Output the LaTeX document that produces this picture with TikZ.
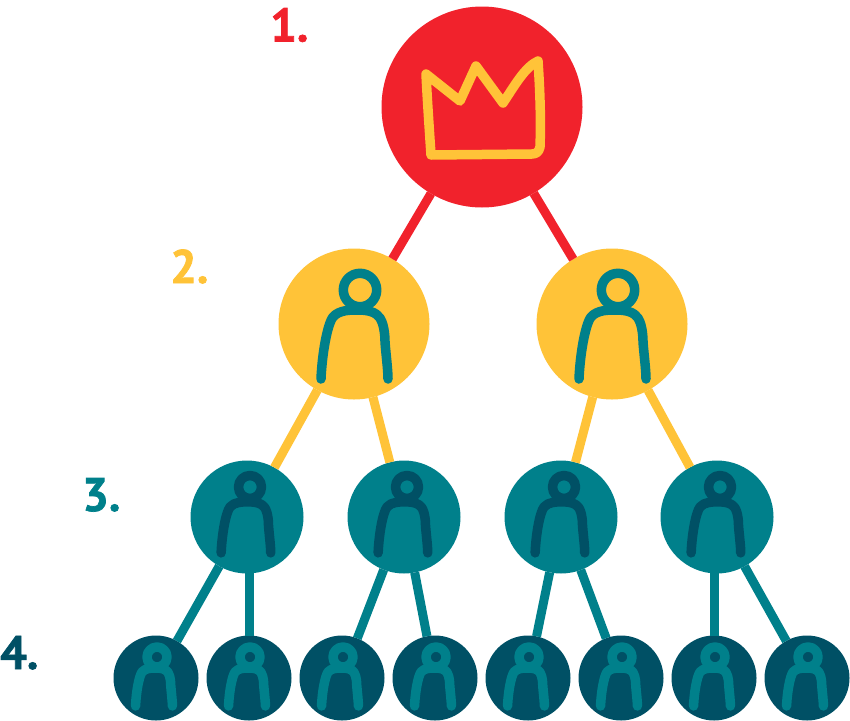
\documentclass[tikz,border=0pt]{standalone}
\usepackage{fontspec}
\setmainfont{PT Sans}[UprightFont=* Bold,FakeBold=1.5]
\definecolor{cred}{HTML}{F1222C}
\definecolor{cyel}{HTML}{FFC338}
\definecolor{cteal}{HTML}{00808B}
\definecolor{cdark}{HTML}{005065}
\tikzset{
  disc/.style={circle,inner sep=0pt,outer sep=0pt,draw=none},
  redn/.style={disc,fill=cred,minimum size=201pt},
  yeln/.style={disc,fill=cyel,minimum size=151pt},
  tealn/.style={disc,fill=cteal,minimum size=113pt},
  darkn/.style={disc,fill=cdark,minimum size=85pt},
  link/.style={line width=9pt},
  icon/.style={line width=9.5pt,line cap=round,line join=round},
  lab/.style={anchor=base west,inner sep=0pt,font=\fontsize{47pt}{47pt}\selectfont}
}
% node, dx, dy, scale, head radius, colour
\newcommand\personicon[6]{%
  \begin{scope}[shift={(#1.center)}]
  \begin{scope}[shift={(#2,#3)},x=#4pt,y=-#4pt]
    \draw[icon,#6] (0,0) circle[radius=#5pt];
    \draw[icon,#6] (-39,89) .. controls (-38,65) and (-33,35) .. (-27,27)
       .. controls (-21,20) and (-10,20) .. (-2,20)
       .. controls (8,20) and (16,22) .. (20,28)
       .. controls (25,36) and (25,50) .. (25,52)
       .. controls (26,65) and (28,80) .. (28,89);
  \end{scope}\end{scope}}
\begin{document}
\begin{tikzpicture}[x=1pt,y=-1pt]
\useasboundingbox (0,0) rectangle (850,720);
\node[redn] (r) at (482,107) {};
\node[yeln] (y1) at (354,324) {};
\node[yeln] (y2) at (612,324) {};
\node[tealn] (t1) at (247,517) {};
\node[tealn] (t2) at (404,517) {};
\node[tealn] (t3) at (561,517) {};
\node[tealn] (t4) at (717,517) {};
\node[darkn] (d1) at (156,678) {};
\node[darkn] (d2) at (249,678) {};
\node[darkn] (d3) at (342,678) {};
\node[darkn] (d4) at (435,678) {};
\node[darkn] (d5) at (528,678) {};
\node[darkn] (d6) at (621,678) {};
\node[darkn] (d7) at (714,678) {};
\node[darkn] (d8) at (807,678) {};
\draw[link,cred] (r) -- (y1);
\draw[link,cred] (r) -- (y2);
\draw[link,cyel] (y1) -- (t1);
\draw[link,cyel] (y1) -- (t2);
\draw[link,cyel] (y2) -- (t3);
\draw[link,cyel] (y2) -- (t4);
\draw[link,cteal] (t1) -- (d1);
\draw[link,cteal] (d2) -- (d2 |- t1);
\draw[link,cteal] (t2) -- (d3);
\draw[link,cteal] (t2) -- (d4);
\draw[link,cteal] (t3) -- (d5);
\draw[link,cteal] (t3) -- (d6);
\draw[link,cteal] (d7) -- (d7 |- t4);
\draw[link,cteal] (t4) -- (d8);
% crown
\draw[icon,cyel] (431,155) .. controls (429,125) and (427,95) .. (426,74)
  -- (460,101) -- (476,66) -- (503,103)
  .. controls (515,85) and (525,67) .. (538,61)
  .. controls (540,90) and (541,120) .. (540,147)
  .. controls (539,152) and (536,154) .. (532,154) -- cycle;
\personicon{y1}{6}{-34}{1}{16.7}{cteal}
\personicon{y2}{6}{-34}{1}{16.7}{cteal}
\foreach \n in {t1,t2,t3,t4}{\personicon{\n}{3}{-30}{0.74}{11.5}{cdark}}
\foreach \n in {d1,d2,d3,d4,d5,d6,d7,d8}{\personicon{\n}{1}{-21}{0.55}{10}{cteal}}
\node[lab,text=cred] (l1) at (270,41.5) {1.};
\node[lab,text=cyel] (l2) at (170,283) {2.};
\node[lab,text=cteal] (l3) at (82,511) {3.};
\node[lab,text=cdark] (l4) at (0,669) {4.};
\end{tikzpicture}
\end{document}
